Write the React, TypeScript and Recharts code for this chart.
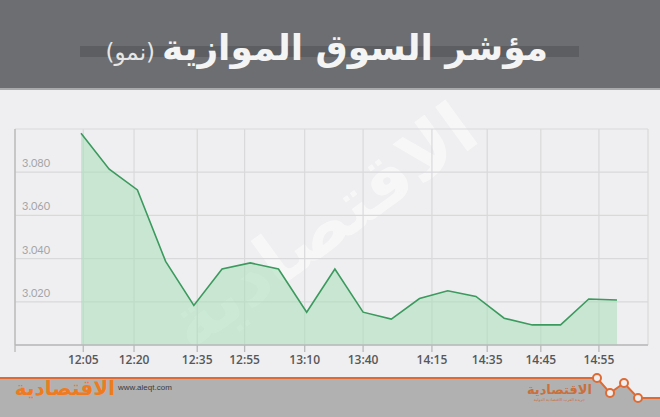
import React from "react";
import { Area, AreaChart, CartesianGrid, XAxis, YAxis } from "recharts";

// index readings, 20 evenly spaced points
const values = [
  3.098, 3.0814, 3.0718, 3.0387, 3.0183, 3.0352, 3.038, 3.0352, 3.0152, 3.0352,
  3.0152, 3.012, 3.0215, 3.0251, 3.0225, 3.0124, 3.0093, 3.0093, 3.0213, 3.0208,
];

// where the designer placed the time labels (in point-index units)
const xTickPositions = [0.08, 1.88, 4.12, 5.8, 7.93, 10, 12.44, 14.4, 16.3, 18.36];
const xTickLabels = ["12:05", "12:20", "12:35", "12:55", "13:10", "13:40", "14:15", "14:35", "14:45", "14:55"];

const yTicks = [3.0, 3.02, 3.04, 3.06, 3.08, 3.1];
const yLabelled = [3.02, 3.04, 3.06, 3.08];

const X_MIN = -2.34;
const X_MAX = 20.1;

const data = values.map((v, i) => ({ i, v }));

const xLabelFor = (val: number) => {
  const k = xTickPositions.indexOf(val);
  return k >= 0 ? xTickLabels[k] : "";
};

const renderYTick = (props: any) => {
  const { y, payload } = props;
  const show = yLabelled.some((t) => Math.abs(t - payload.value) < 1e-6);
  if (!show) return <g key={payload.value} />;
  return (
    <text key={payload.value} x={22} y={y - 5} fill="#a5a5a7" fontSize={11} fontFamily="Lato, sans-serif">
      {payload.value.toFixed(3)}
    </text>
  );
};

export default function App() {
  return (
    <div
      style={{
        position: "absolute",
        top: 0,
        left: 0,
        width: 660,
        height: 417,
        background: "#efeff1",
        overflow: "hidden",
      }}
    >
      {/* watermark */}
      <svg width={660} height={417} style={{ position: "absolute", top: 0, left: 0 }}>
        <text
          x={325}
          y={250}
          textAnchor="middle"
          fontSize={72}
          fontWeight="bold"
          fontFamily="DejaVu Sans, sans-serif"
          fill="#ffffff"
          opacity={0.55}
          transform="rotate(-36 325 230)"
        >
          الاقتصادية
        </text>
      </svg>

      <AreaChart
        width={660}
        height={417}
        data={data}
        margin={{ top: 129, right: 12, left: 14, bottom: 42 }}
        style={{ position: "absolute", top: 0, left: 0 }}
      >
        <CartesianGrid stroke="#d9d9db" strokeWidth={1.2} />
        <XAxis
          type="number"
          dataKey="i"
          domain={[X_MIN, X_MAX]}
          ticks={[X_MIN, ...xTickPositions]}
          tickFormatter={xLabelFor}
          allowDataOverflow
          interval={0}
          height={30}
          tickSize={7}
          tickMargin={3}
          axisLine={{ stroke: "#b9b9bb", strokeWidth: 1.3 }}
          tickLine={{ stroke: "#b9b9bb", strokeWidth: 1.3 }}
          tick={{ fill: "#56575a", fontSize: 12, fontWeight: 600, fontFamily: "Open Sans, sans-serif" }}
        />
        <YAxis
          type="number"
          domain={[3.0, 3.1]}
          ticks={yTicks}
          interval={0}
          width={1}
          axisLine={{ stroke: "#b9b9bb", strokeWidth: 1.3 }}
          tickLine={false}
          tick={renderYTick}
        />
        <Area
          type="linear"
          dataKey="v"
          stroke="#3b9a5d"
          strokeWidth={1.6}
          fill="#aadeba"
          fillOpacity={0.55}
          isAnimationActive={false}
          dot={false}
          activeDot={false}
        />
      </AreaChart>

      {/* header */}
      <div
        style={{
          position: "absolute",
          top: 0,
          left: 0,
          width: 660,
          height: 88,
          background: "#6d6e72",
          borderBottom: "2px solid #a9aaac",
        }}
      >
        <div style={{ position: "absolute", left: 80, top: 46, width: 499, height: 11, background: "#5d5e62" }} />
        <div
          dir="rtl"
          style={{
            position: "absolute",
            right: 112,
            top: 27,
            whiteSpace: "nowrap",
            fontFamily: "DejaVu Sans, sans-serif",
            color: "#f4f4f4",
            display: "flex",
            alignItems: "baseline",
            gap: 7,
          }}
        >
          <span style={{ fontSize: 36, fontWeight: "bold" }}>مؤشر السوق الموازية</span>
          <span style={{ fontSize: 23, color: "#e6e6e6" }}>(نمو)</span>
        </div>
      </div>

      {/* footer */}
      <svg width={660} height={417} style={{ position: "absolute", top: 0, left: 0, pointerEvents: "none" }}>
        <polygon points="0,378 597,378 610,393 624,383 638,398 660,398 660,417 0,417" fill="#b1b1b2" />
        <polyline
          points="0,378 597,378 610,393 624,383 638,398 660,398"
          fill="none"
          stroke="#de6b33"
          strokeWidth={2}
        />
        {[
          [597, 378],
          [610, 393],
          [624, 383],
          [638, 398],
        ].map(([cx, cy]) => (
          <circle key={cx} cx={cx} cy={cy} r={4} fill="#efeff1" stroke="#de6b33" strokeWidth={2} />
        ))}
        <text x={118} y={390} fontSize={8} fontFamily="Liberation Sans, sans-serif" fill="#3a3a3a">
          www.aleqt.com
        </text>
      </svg>
      <div
        dir="rtl"
        style={{
          position: "absolute",
          right: 545,
          top: 376,
          fontFamily: "DejaVu Sans, sans-serif",
          fontWeight: "bold",
          fontSize: 20,
          color: "#f07b1e",
          whiteSpace: "nowrap",
        }}
      >
        الاقتصادية
      </div>
      <div
        dir="rtl"
        style={{
          position: "absolute",
          right: 68,
          top: 383,
          fontFamily: "DejaVu Sans, sans-serif",
          fontWeight: "bold",
          fontSize: 13,
          color: "#c9703c",
          whiteSpace: "nowrap",
          textAlign: "center",
          lineHeight: "14px",
        }}
      >
        الاقتصادية
        <div style={{ fontSize: 4, fontWeight: "normal", lineHeight: "5px" }}>جريدة العرب الاقتصادية الدولية</div>
      </div>
    </div>
  );
}
